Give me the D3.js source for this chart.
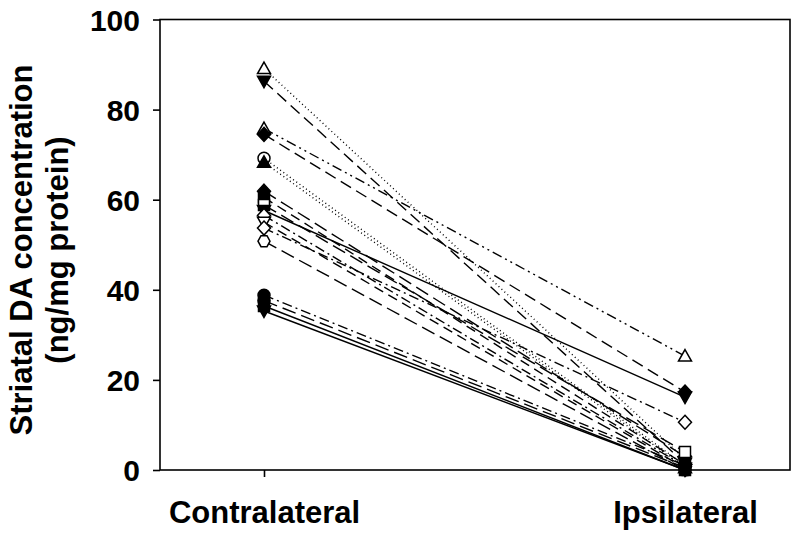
<!DOCTYPE html>
<html><head><meta charset="utf-8">
<script src="https://cdn.jsdelivr.net/npm/d3@7"></script>
<style>body{margin:0;background:#fff}svg{display:block}</style>
</head><body>
<svg id="c" width="800" height="537"></svg>
<script>
const categories = ["Contralateral", "Ipsilateral"];
const contralateral = [89.1, 86.3, 75.8, 74.5, 69.2, 68.3, 61.9, 60.5, 58.8, 57.6, 56.5, 55.0, 53.7, 50.8, 38.8, 37.6, 36.4, 35.3];
const ipsilateral   = [2.4, 1.5, 25.3, 17.3, 1.0, 0.5, 3.0, 1.2, 4.0, 16.2, 0.8, 0.4, 10.6, 0.0, 1.0, 0.5, 0.0, 0.0];
const symbols = ["triUp","triDown","triUp","diamond","circle","triUp","diamond","square","square","triDown","diamond","triDown","diamond","hexagon","circle","circle","square","triDown"];
const filled  = [false,true,false,true,false,true,true,true,false,true,false,false,false,false,true,true,true,true];
const dashes  = ["1,3","12,6","10,4,2,4,2,4","12,6","1,3","1,3","14,6","10,6","14,6","none","10,4,2,4","10,6","10,4,2,4","14,6","10,4,2,4","14,6","none","none"];
const yTicks = [0, 20, 40, 60, 80, 100];

const svg = d3.select("#c");
const L = 160, R = 790, T = 19.5, B = 470;
const y = d3.scaleLinear().domain([0, 100]).range([B, T]);
const x = d3.scalePoint().domain(categories).range([264, 685]);
const FONT = "Liberation Sans, Arial, sans-serif";

// frame
svg.append("rect").attr("x", L).attr("y", T).attr("width", R - L).attr("height", B - T)
  .attr("fill", "none").attr("stroke", "#000").attr("stroke-width", 1.6);

// y axis
const ya = svg.append("g").attr("transform", `translate(${L},0)`)
  .call(d3.axisLeft(y).tickValues(yTicks).tickSize(7).tickPadding(13).tickFormat(d3.format("d")));
ya.select(".domain").remove();
ya.selectAll("line").attr("stroke", "#000").attr("stroke-width", 1.6);
ya.selectAll("text").attr("font-family", FONT).attr("font-weight", "bold")
  .attr("font-size", 30).attr("fill", "#000").attr("dy", "0.36em");

// x axis
const xa = svg.append("g").attr("transform", `translate(0,${B})`)
  .call(d3.axisBottom(x).tickSize(7).tickPadding(24));
xa.select(".domain").remove();
xa.selectAll("line").attr("stroke", "#000").attr("stroke-width", 1.6);
xa.selectAll("text").attr("font-family", FONT).attr("font-weight", "bold")
  .attr("font-size", 31).attr("fill", "#000");

// y title
const yt = svg.append("text").attr("transform", "translate(40,250) rotate(-90)")
  .attr("text-anchor", "middle").attr("font-family", FONT)
  .attr("font-weight", "bold").attr("font-size", 31).attr("fill", "#000");
yt.append("tspan").attr("x", 0).attr("dy", "-0.25em").text("Striatal DA concentration");
yt.append("tspan").attr("x", 0).attr("dy", "1.15em").text("(ng/mg protein)");

const data = contralateral.map((c, i) => ({c, p: ipsilateral[i], s: symbols[i], f: filled[i], d: dashes[i]}));

// lines
svg.append("g").selectAll("line").data(data).join("line")
  .attr("x1", x(categories[0])).attr("x2", x(categories[1]))
  .attr("y1", d => y(d.c)).attr("y2", d => y(d.p))
  .attr("stroke", "#000").attr("stroke-width", 1.4)
  .attr("stroke-dasharray", d => d.d === "none" ? null : d.d);

function symPath(s) {
  switch (s) {
    case "triUp": return "M0,-6.5L6.5,5L-6.5,5Z";
    case "triDown": return "M0,6.5L6.5,-5L-6.5,-5Z";
    case "diamond": return "M0,-7L6.5,0L0,7L-6.5,0Z";
    case "square": return "M-5.5,-5.5H5.5V5.5H-5.5Z";
    case "hexagon": return "M-6,0L-3,-5.5L3,-5.5L6,0L3,5.5L-3,5.5Z";
    case "circle": return d3.symbol(d3.symbolCircle, 113)();
  }
}
const pts = [];
data.forEach(d => { pts.push({cat: categories[0], v: d.c, s: d.s, f: d.f}); pts.push({cat: categories[1], v: d.p, s: d.s, f: d.f}); });
svg.append("g").selectAll("path").data(pts).join("path")
  .attr("transform", d => `translate(${x(d.cat)},${y(d.v)})`)
  .attr("d", d => symPath(d.s))
  .attr("fill", d => d.f ? "#000" : "#fff").attr("stroke", "#000").attr("stroke-width", 1.5);
</script>
</body></html>
